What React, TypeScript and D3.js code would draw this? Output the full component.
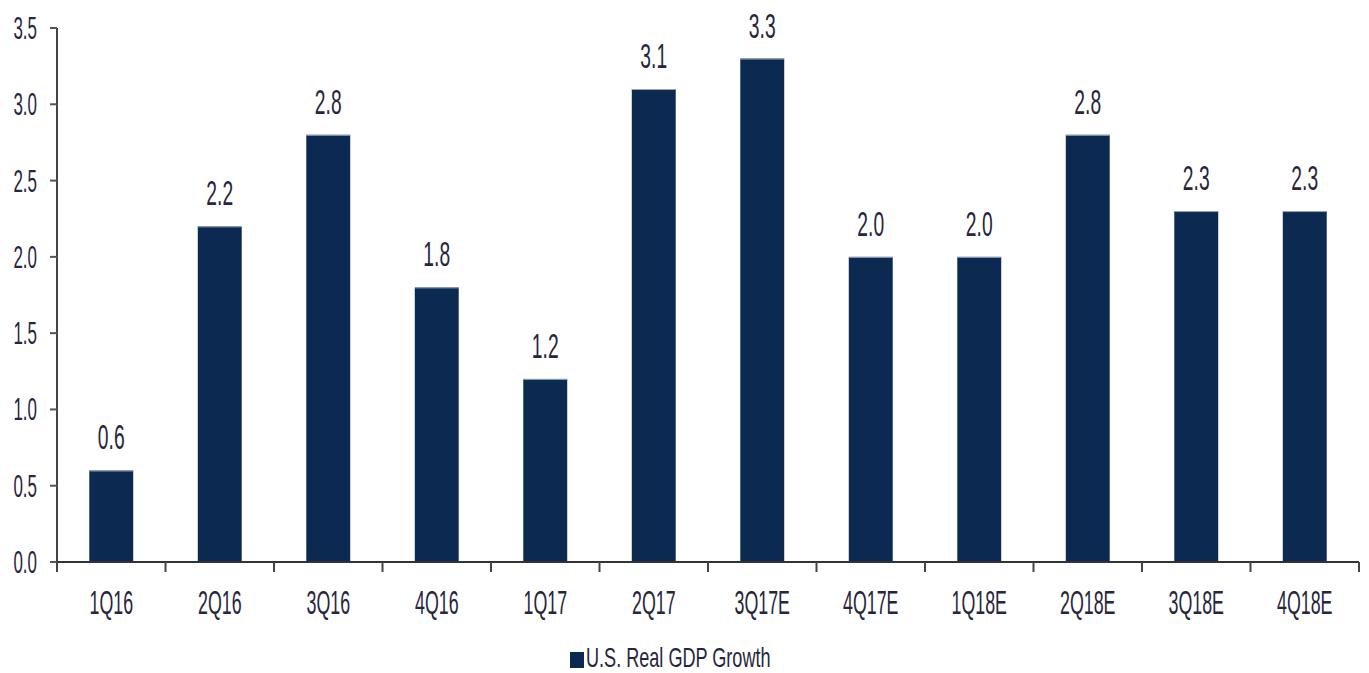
import React from "react";
import * as d3 from "d3";

const categories = ["1Q16", "2Q16", "3Q16", "4Q16", "1Q17", "2Q17", "3Q17E", "4Q17E", "1Q18E", "2Q18E", "3Q18E", "4Q18E"];
const gdpGrowth = [0.6, 2.2, 2.8, 1.8, 1.2, 3.1, 3.3, 2.0, 2.0, 2.8, 2.3, 2.3];
const yTicks = [0, 0.5, 1.0, 1.5, 2.0, 2.5, 3.0, 3.5];
const seriesName = "U.S. Real GDP Growth";

const W = 1369;
const H = 673;
const left = 57;
const right = 1359;
const top = 28;
const bottom = 562;
const barColor = "#0c2a51";
const textColor = "#26263c";
const font = "'Liberation Sans', Arial, sans-serif";

export default function App() {
  const x = d3.scaleBand<string>().domain(categories).range([left, right]).paddingInner(0.595).paddingOuter(0.2975);
  const xb = d3.scaleBand<string>().domain(categories).range([left, right]);
  const y = d3.scaleLinear().domain([0, 3.5]).range([bottom, top]);

  return (
    <svg width={W} height={H} style={{ position: "absolute", left: 0, top: 0, background: "#fff" }}>
      {categories.map((c, i) => (
        <g key={c}>
          <rect x={x(c)} y={y(gdpGrowth[i])} width={x.bandwidth()} height={bottom - y(gdpGrowth[i])} fill={barColor} />
          <line x1={x(c)} x2={(x(c) as number) + x.bandwidth()} y1={y(gdpGrowth[i]) + 0.5} y2={y(gdpGrowth[i]) + 0.5} stroke="#9aa6b8" strokeWidth={1} />
          <text
            transform={`translate(${(x(c) as number) + x.bandwidth() / 2},${y(gdpGrowth[i]) - 21}) scale(0.55,1)`}
            textAnchor="middle"
            fontFamily={font}
            fontSize={35}
            fill={textColor}
          >
            {gdpGrowth[i].toFixed(1)}
          </text>
        </g>
      ))}
      <line x1={left} x2={left} y1={top} y2={bottom} stroke="#444" strokeWidth={2} />
      {yTicks.map((t) => (
        <g key={t}>
          <line x1={50} x2={left} y1={y(t)} y2={y(t)} stroke="#555" strokeWidth={2} />
          <text
            transform={`translate(37,${y(t) + 11}) scale(0.53,1)`}
            textAnchor="end"
            fontFamily={font}
            fontSize={32}
            fill={textColor}
          >
            {t.toFixed(1)}
          </text>
        </g>
      ))}
      <line x1={left} x2={right} y1={bottom} y2={bottom} stroke="#333" strokeWidth={2} />
      {categories.map((c) => (
        <line key={"t" + c} x1={xb(c)} x2={xb(c)} y1={bottom} y2={bottom + 10} stroke="#444" strokeWidth={2} />
      ))}
      <line x1={right} x2={right} y1={bottom} y2={bottom + 10} stroke="#444" strokeWidth={2} />
      {categories.map((c) => (
        <text
          key={"l" + c}
          transform={`translate(${(xb(c) as number) + xb.bandwidth() / 2},614) scale(0.54,1)`}
          textAnchor="middle"
          fontFamily={font}
          fontSize={33}
          fill={textColor}
        >
          {c}
        </text>
      ))}
      <rect x={570} y={652} width={14} height={16} fill={barColor} />
      <text transform="translate(586,667) scale(0.67,1)" fontFamily={font} fontSize={27} fill={textColor}>
        {seriesName}
      </text>
    </svg>
  );
}
